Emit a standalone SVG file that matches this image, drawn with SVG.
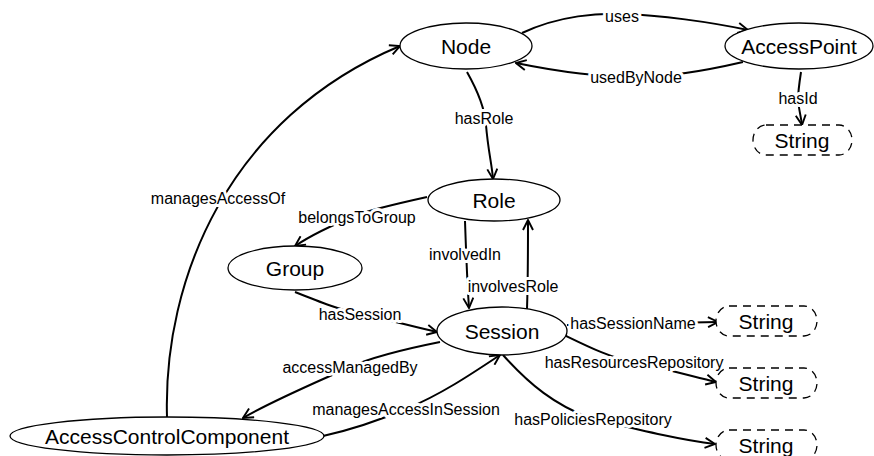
<svg xmlns="http://www.w3.org/2000/svg" width="874" height="456" viewBox="0 0 874 456">
<style>
.bg{fill:#fff}
.n ellipse{fill:#fff;stroke:#000;stroke-width:1.3}
.s rect{fill:#fff;stroke:#000;stroke-width:1.3;stroke-dasharray:8 6}
.nt{font-family:"Liberation Sans",Arial,sans-serif;font-size:21px;fill:#000;text-anchor:middle;dominant-baseline:central}
.e path{fill:none;stroke:#000;stroke-width:2;marker-end:url(#ah)}
.l{font-family:"Liberation Sans",Arial,sans-serif;font-size:16px;fill:#000;text-anchor:middle;dominant-baseline:central;stroke:#fff;stroke-width:6;paint-order:stroke;stroke-linejoin:round}
</style>
<defs>
<marker id="ah" markerUnits="userSpaceOnUse" viewBox="0 0 12 12" refX="11" refY="6" markerWidth="12" markerHeight="12" orient="auto">
<path d="M1,1 L11,6 L1,11" fill="none" stroke="#000" stroke-width="1.9"/>
</marker>
</defs>
<rect class="bg" x="0" y="0" width="874" height="456"/>
<g id="connectors" class="e">
<path id="e-uses" d="M522,33 C560,15 600,13 622,14 C660,15 710,22 748,30"/>
<path id="e-usedByNode" d="M743,62 C700,72 660,77 636,77 C590,77 550,70 516,63"/>
<path id="e-hasId" d="M801,72 C799,85 798,95 798,100 C799,110 801,117 802,125"/>
<path id="e-hasRole" d="M467,72 C480,95 485,110 486,125 C488,150 492,165 493,179"/>
<path id="e-managesAccessOf" d="M167,417 C163,280 228,118 400,46"/>
<path id="e-belongsToGroup" d="M427,197 C400,203 370,210 357,215 C330,226 310,236 295,246"/>
<path id="e-involvedIn" d="M465,221 C466,250 467,280 469,308"/>
<path id="e-involvesRole" d="M527,309 C528,280 528,250 528,220"/>
<path id="e-hasSession" d="M295,292 C320,302 340,310 360,314 C390,320 410,326 437,332"/>
<path id="e-accessManagedBy" d="M440,342 C410,348 370,358 350,367 C310,385 270,402 243,418"/>
<path id="e-managesAccessInSession" d="M323,436 C350,430 380,420 406,409 C440,395 470,375 500,355"/>
<path id="e-hasPoliciesRepository" d="M503,355 C530,385 555,405 590,418 C640,430 680,440 715,444"/>
<path id="e-hasSessionName" d="M567,325 L718,322"/>
<path id="e-hasResourcesRepository" d="M560,333 C585,345 610,358 634,362 C670,370 695,377 716,382"/>
<text class="l" x="622" y="16">uses</text>
<text class="l" x="636" y="77">usedByNode</text>
<text class="l" x="798" y="98">hasId</text>
<text class="l" x="484" y="118">hasRole</text>
<text class="l" x="218" y="198">managesAccessOf</text>
<text class="l" x="357" y="217">belongsToGroup</text>
<text class="l" x="465" y="254">involvedIn</text>
<text class="l" x="513" y="286">involvesRole</text>
<text class="l" x="360" y="314">hasSession</text>
<text class="l" x="350" y="367">accessManagedBy</text>
<text class="l" x="406" y="409">managesAccessInSession</text>
<text class="l" x="593" y="419">hasPoliciesRepository</text>
<text class="l" x="633" y="323">hasSessionName</text>
<text class="l" x="634" y="362">hasResourcesRepository</text>
</g>
<g id="node-Node" class="n"><ellipse cx="466" cy="46" rx="66" ry="23"/><text class="nt" x="466" y="46">Node</text></g>
<g id="node-AccessPoint" class="n"><ellipse cx="799" cy="46" rx="74" ry="23"/><text class="nt" x="799" y="46">AccessPoint</text></g>
<g id="node-String-id" class="s"><rect x="753" y="125" width="99" height="30" rx="13" ry="15"/><text class="nt" x="802" y="140">String</text></g>
<g id="node-Role" class="n"><ellipse cx="494" cy="200" rx="66" ry="21"/><text class="nt" x="494" y="200">Role</text></g>
<g id="node-Group" class="n"><ellipse cx="295" cy="268" rx="67" ry="22"/><text class="nt" x="295" y="268">Group</text></g>
<g id="node-Session" class="n"><ellipse cx="502" cy="331" rx="65" ry="24"/><text class="nt" x="502" y="331">Session</text></g>
<g id="node-AccessControlComponent" class="n"><ellipse cx="167" cy="436" rx="157" ry="19"/><text class="nt" x="167" y="436">AccessControlComponent</text></g>
<g id="node-String-name" class="s"><rect x="716" y="306" width="101" height="30" rx="13" ry="15"/><text class="nt" x="766" y="321">String</text></g>
<g id="node-String-res" class="s"><rect x="716" y="368" width="101" height="30" rx="13" ry="15"/><text class="nt" x="766" y="383">String</text></g>
<g id="node-String-pol" class="s"><rect x="716" y="430" width="101" height="30" rx="13" ry="15"/><text class="nt" x="766" y="445">String</text></g>
</svg>
